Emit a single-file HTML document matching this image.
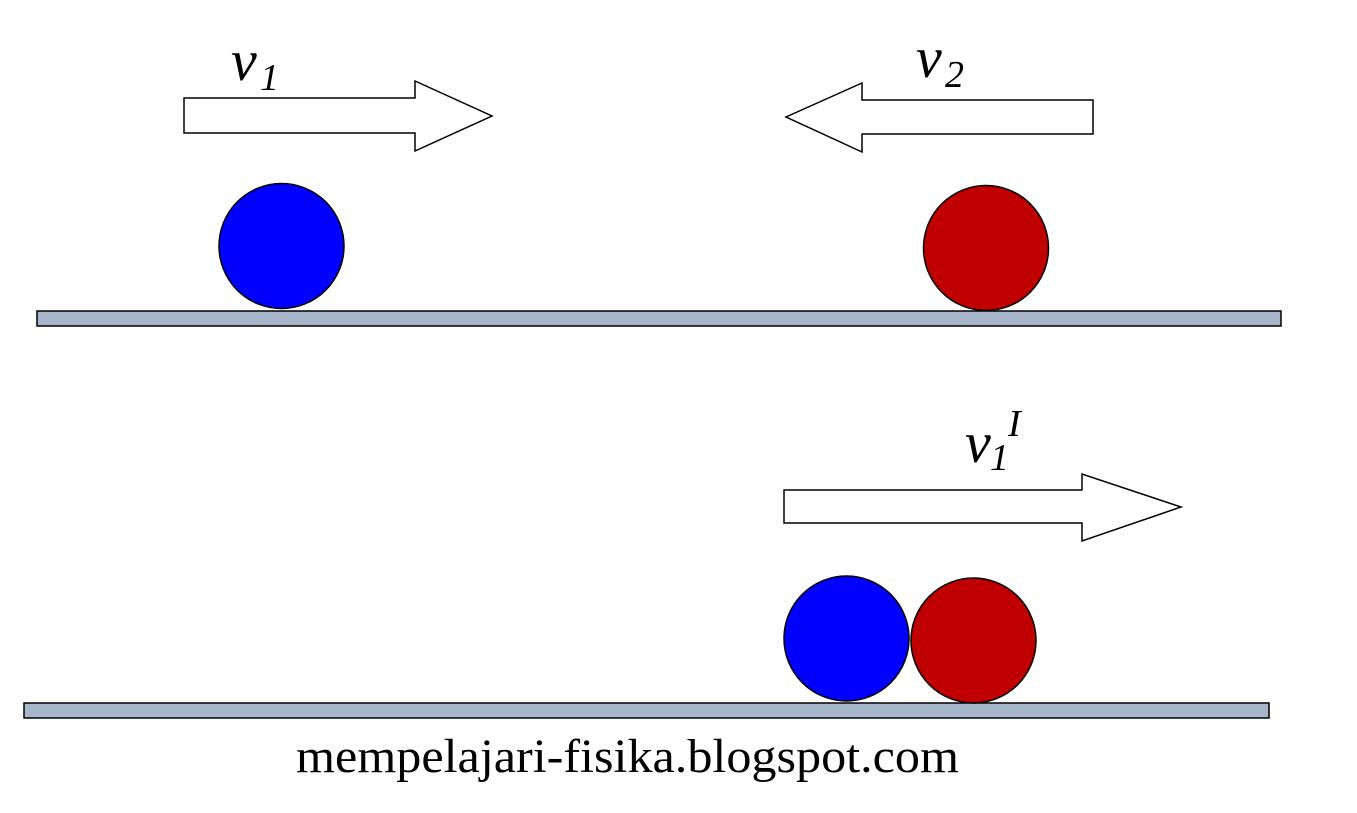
<!DOCTYPE html>
<html><head><meta charset="utf-8"><style>html,body{margin:0;padding:0;background:#fff}svg{display:block}</style></head>
<body>
<svg width="1357" height="813" viewBox="0 0 1357 813" xmlns="http://www.w3.org/2000/svg">
<g stroke="#000" stroke-width="1.5">
<polygon points="184,98 415,98 415,81 492,116 415,151 415,133 184,133" fill="#fff"/>
<polygon points="1093,100 862,100 862,83 786,117 862,152 862,134 1093,134" fill="#fff"/>
<polygon points="784,490 1082,490 1082,474 1181,507 1082,541 1082,523 784,523" fill="#fff"/>
<rect x="37" y="311" width="1244" height="15" fill="#a7b6cb"/>
<rect x="24" y="703" width="1245" height="15" fill="#a7b6cb"/>
<circle cx="281.5" cy="246" r="62.5" fill="#0000ff"/>
<circle cx="986" cy="248" r="62.5" fill="#c00000"/>
<circle cx="846.5" cy="638.5" r="62.5" fill="#0000ff"/>
<circle cx="973.5" cy="640.5" r="62.5" fill="#c00000"/>
</g>
<g font-family="Liberation Serif, serif" font-style="italic" fill="#000">
<text x="231" y="80" font-size="58">v</text>
<text x="260" y="90" font-size="38">1</text>
<text x="916" y="77" font-size="58">v</text>
<text x="945" y="87" font-size="38">2</text>
<text x="965" y="462" font-size="58">v</text>
<text x="990" y="470" font-size="38">1</text>
<text x="1008" y="436" font-size="38">I</text>
</g>
<text x="296" y="772" font-family="Liberation Serif, serif" font-size="48" textLength="663" lengthAdjust="spacingAndGlyphs">mempelajari-fisika.blogspot.com</text>
</svg>
</body></html>
